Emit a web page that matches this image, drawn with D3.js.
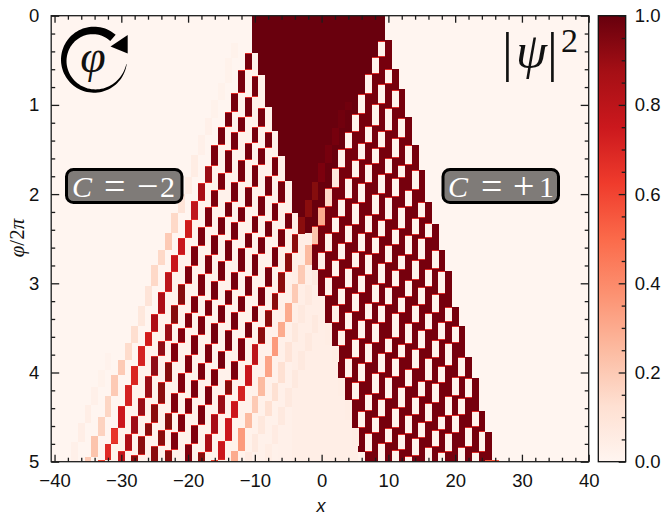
<!DOCTYPE html>
<html>
<head>
<meta charset="utf-8">
<script src="https://cdn.jsdelivr.net/npm/d3@7"></script>
<style>
body { margin: 0; background: #fff; }
text { font-family: "Liberation Sans", Arial, sans-serif; fill: #111; }
.math, .math text { font-family: "Liberation Serif", serif; }
</style>
</head>
<body>
<div id="container"></div>
<script>
// colormap stops (Reds)
const redStops = ["#fff5f0", "#fee0d2", "#fcbba1", "#fc9272", "#fb6a4a", "#ef3b2c", "#cb181d", "#a50f15", "#67000d"]

const xTicks = [-40, -30, -20, -10, 0, 10, 20, 30, 40]
const phiTicks = [0, 1, 2, 3, 4, 5]
const cbarTicks = [0, 0.2, 0.4, 0.6, 0.8, 1]

// all phi values below are in hundredths of phi/2pi

// filled block in the middle, one column per site from -10 to 26
const darkFirstSite = -10
const darkTop = [0,0,0,0,0,0,0,0,0,0,0,0,0,0,0,0,0,0,0,0, 27,60,82,114,145,173,209,234,263,286,327,348,383,406,443,467,498]
const darkBottom = [42,67,102,129,157,185,221,244,244,285,314,344,372,406,431,462,489,500,500,500,500,500,500,500,500,500,500,500,500,500,500,500,500,500,500,500,500]
const coreBottom = [42,67,102,129,157,185,221,244,244,236,214,193,171,149,130,110,88,65,46,28,0,0,0,0,0,0,0,0,0,0,0,0,0,0,0,0,0]

// light wash under the left wave and the middle, sites -33 to 6
const hazeFirstSite = -33
const hazeStart = [498,480,462,438,414,393,370,355,334,310,287,268,249,229,208,188,168,145,125,108,87,61,42,42,67,102,129,157,185,221,244,244,285,314,344,372,406,431,462,489]
const hazeValue = [.02,.02,.02,.02,.02,.02,.02,.02,.02,.02,.02,.02,.02,.02,.02,.02,.02,.02,.02,.02,.02,.02,.02,.025,.025,.025,.025,.03,.03,.04,.04,.04,.04,.04,.04,.04,.04,.04,.04,.04]

// bricks run down to the left, one site per step: chain i starts at chainSite[i],
// brick j spans chainPhi[i][j] to chainPhi[i][j+1], value chainValue[i][j] (last one repeats)
const chainSite = [-32, -13, -11, -10, -9, -8, -7, -6, -5, 4,
    9, 10, 11, 12, 13, 14, 15, 16, 17, 18, 19, 20, 21, 22, 23, 24, 25]

const chainPhi = [
    [378,397,416,436,457,478,500],
    [31,47,75,95,115,134,156,181,200,221,244,263,279,303,326,348,367,386,403,426,450,471,495,500],
    [42,61,87,108,125,145,168,188,208,229,249,268,287,310,334,355,370,393,414,438,462,480,498,500],
    [68,91,114,130,151,176,195,214,237,258,281,301,324,346,365,382,404,429,449,469,488,500],
    [103,125,143,162,186,209,226,246,268,290,314,333,350,367,388,411,435,457,471,492,500],
    [130,148,167,192,214,231,251,275,297,319,337,358,380,401,423,445,464,482,500],
    [158,180,202,225,244,260,287,307,324,344,368,389,408,429,447,467,487,500],
    [185,210,230,248,267,292,314,332,352,376,396,415,436,459,480,500],
    [221,239,259,282,304,325,343,361,387,408,425,447,469,489,500],
    [97,106,126,145,165,186,207,226,245,266,287,311,330,349,368,392,415,432,451,477,498,500],
    [28,46,65,88,110,130,149,171,193,214,236,257,279,301,322,343,360,382,405,426,445,462,488,500],
    [60,77,99,124,143,162,182,205,226,244,265,285,302,324,344,366,388,412,432,449,469,489,500],
    [83,103,129,148,166,188,210,235,255,274,293,314,336,356,376,397,417,439,459,480,500],
    [115,137,160,177,200,223,244,265,283,305,324,344,369],
    [145,167,182,203,229,248,267,291,311,332,352,370,388],
    [173,195,214,239,257,277,301,322,341,362,384,406,426],
    [209,227,246,268,285,304,324,344,367,389,411,431,453],
    [232,249,274,296,315,333,361,378,401,424,443,462,482],
    [263,284,304,324,344,368,384,405,430,450,468,489,500],
    [286,312,333,352,374,396,416,440,462,479,500],
    [327,343,364,384,410,427,448,469,487,500],
    [348,367,393,412,434,455,473,494,500],
    [383,405,426,449,464,484,500],
    [406,429,448,468,489,500],
    [443,461,484,500],
    [466,489,500],
    [498,500]
]

const chainValue = [
    [.015,.02,.03,.04,.04,.03],
    [.02,.02,.02,.02,.03,.03,.05,.05,.1,.15,.2,.15,.15,.1,.08,.13,.14,.2,.2,.16,.17,.22,.2],
    [.97,.97,.97,.97,.97,.96,.9,.87,.79,.74,.76,.76,.8,.85,.85,.73,.72,.7,.72,.75,.65,.68,.6],
    [.97,.97,.97,.97,.97,.96,.96,.96,.96,.96,.96,.94,.94,.9,.92,.92,.9,.9,.89,.85,.78],
    [.97,.97,.97,.97,.97,.97,.97,.97,.96,.96,.96,.95,.95,.95,.94,.93,.93,.93,.93,.93],
    [.97,.97,.97,.97,.97,.97,.97,.97,.97,.96,.96,.96,.95,.95,.95,.94,.93,.93],
    [.97,.97,.97,.97,.97,.97,.97,.97,.97,.97,.96,.96,.96,.95,.95,.95,.93],
    [.97,.97,.97,.97,.97,.97,.97,.97,.97,.97,.96,.96,.96,.95,.95,.93],
    [.97,.97,.97,.97,.97,.97,.97,.96,.96,.93,.9,.87,.86,.93],
    [.98,.98,.97,.97,.96,.94,.93,.93,.93,.93,.93,.93,.93,.93,.8,.76,.72,.75,.75,.75,.6],
    [.02,.02,.02,.02,.02,.02,.03,.08,.15,.3,.22,.25,.2,.2,.3,.3,.35,.32,.25,.2,.25,.35,.3],
    [.02,.02,.02,.02,.02,.02,.02,.02,.02,.03,.04,.07,.07,.07,.08,.1,.12,.12,.12,.08,.07,.06],
    [.02,.02,.02,.02,.02,.02,.02,.02,.02,.02,.03,.04,.07,.07,.07,.07,.07,.07,.06,.05],
    [.02,.02,.02,.02,.02,.02,.02,.02,.02,.02,.03,.05],
    [.02,.02,.02,.02,.02,.02,.02,.02,.02,.02,.03,.05],
    [.02,.02,.02,.02,.02,.02,.02,.02,.02,.02,.03,.05],
    [.02,.02,.02,.02,.02,.02,.02,.02,.02,.02,.02,.05],
    [.02,.02,.02,.02,.02,.02,.02,.02,.02,.02,.02,.05],
    [.02],
    [.02],
    [.02],
    [.02],
    [.02],
    [.02],
    [.02],
    [.02],
    [.55]
]

const margin = { top: 15.7, left: 51.2 }
    , width = 537.5
    , height = 446
    , cbarX = 598.3
    , cbarW = 27.4

const svg = d3.select("div#container").append("svg")
    .attr("width", 665)
    .attr("height", 516)
    .style("display", "block")

const color = d3.scaleLinear()
    .domain(redStops.map((d, i) => i / 8))
    .range(redStops)

const xScale = d3.scaleLinear().domain([-40.5, 40]).range([margin.left, margin.left + width])
const yScale = d3.scaleLinear().domain([0, 5]).range([margin.top, margin.top + height])
const cScale = d3.scaleLinear().domain([0, 1]).range([margin.top + height, margin.top])

const defs = svg.append("defs")
defs.append("clipPath").attr("id", "plot").append("rect")
    .attr("x", margin.left).attr("y", margin.top).attr("width", width).attr("height", height)
const blur = defs.append("filter").attr("id", "soft")
    .attr("x", 0).attr("y", 0).attr("width", 1).attr("height", 1)
blur.append("feGaussianBlur").attr("stdDeviation", 0.3)

const grad = defs.append("linearGradient").attr("id", "cbar")
    .attr("x1", 0).attr("x2", 0).attr("y1", 1).attr("y2", 0)
redStops.forEach((c, i) => grad.append("stop").attr("offset", i / 8).attr("stop-color", c))

// cells: [site, from, to, value]
const cells = []
hazeStart.forEach((s, i) => cells.push([hazeFirstSite + i, s, 500, hazeValue[i]]))
darkTop.forEach((t, i) => {
    const site = darkFirstSite + i
    if (site === 26) { cells.push([site, t, darkBottom[i], 0.55]); return }
    cells.push([site, t, darkBottom[i], 0.97])
    if (coreBottom[i] > t) cells.push([site, t, coreBottom[i], 0.995])
})

function overDark(site, p) {
    const i = site - darkFirstSite
    return i >= 0 && i < darkTop.length && p >= darkTop[i] && p <= darkBottom[i]
}

chainSite.forEach((start, c) => {
    const phi = chainPhi[c], vals = chainValue[c]
    d3.range(phi.length - 1).forEach(j => {
        const site = start - j
            , v = j < vals.length ? vals[j] : vals[vals.length - 1]
            , a = phi[j], b = phi[j + 1]
        cells.push([site, a, b, v])
        // the sharp value steps go through the bright reds, as in the interpolated image
        const under = overDark(site, (a + b) / 2) ? 0.97 : 0.03
        if (Math.abs(v - under) > 0.4 && b - a > 4 && a > 0) {
            cells.push([site, a, a + 1.1, 0.68])
            if (b < 500) cells.push([site, b - 1.1, b, 0.68])
        }
    })
})

const plot = svg.append("g").attr("clip-path", "url(#plot)")
plot.append("rect")
    .attr("x", margin.left).attr("y", margin.top).attr("width", width).attr("height", height)
    .attr("fill", color(0))

plot.append("g").attr("filter", "url(#soft)")
    .selectAll("rect").data(cells).join("rect")
    .attr("x", d => xScale(d[0] - 0.5))
    .attr("width", d => xScale(d[0] + 0.5) - xScale(d[0] - 0.5) + 0.2)
    .attr("y", d => yScale(d[1] / 100))
    .attr("height", d => yScale(d[2] / 100) - yScale(d[1] / 100))
    .attr("fill", d => color(d[3]))
    .attr("shape-rendering", "crispEdges")

function styleAxis(g) {
    g.select(".domain").remove()
    g.selectAll("line").attr("stroke", "#1c1c1c").attr("stroke-width", 1.3)
    g.selectAll("text").style("font-size", "18.5px").attr("fill", "#111")
}

const xMajor = d3.axisBottom(xScale).tickValues(xTicks).tickSizeInner(-7).tickSizeOuter(0).tickPadding(12)
const xMinor = d3.range(-40, 41, 2).filter(d => d % 10 !== 0)
const yMinor = d3.range(0, 25).map(d => d / 5).filter(d => !Number.isInteger(d))

svg.append("g").attr("transform", "translate(0," + (margin.top + height) + ")").call(xMajor).call(styleAxis)
svg.append("g").attr("transform", "translate(0," + (margin.top + height) + ")")
    .call(d3.axisBottom(xScale).tickValues(xMinor).tickSizeInner(-4).tickSizeOuter(0).tickFormat("")).call(styleAxis)
svg.append("g").attr("transform", "translate(0," + margin.top + ")")
    .call(d3.axisTop(xScale).tickValues(xTicks).tickSizeInner(-7).tickSizeOuter(0).tickFormat("")).call(styleAxis)
svg.append("g").attr("transform", "translate(0," + margin.top + ")")
    .call(d3.axisTop(xScale).tickValues(xMinor).tickSizeInner(-4).tickSizeOuter(0).tickFormat("")).call(styleAxis)

svg.append("g").attr("transform", "translate(" + margin.left + ",0)")
    .call(d3.axisLeft(yScale).tickValues(phiTicks).tickFormat(d3.format("d")).tickSizeInner(-8).tickSizeOuter(0).tickPadding(12)).call(styleAxis)
svg.append("g").attr("transform", "translate(" + margin.left + ",0)")
    .call(d3.axisLeft(yScale).tickValues(yMinor).tickSizeInner(-4).tickSizeOuter(0).tickFormat("")).call(styleAxis)
svg.append("g").attr("transform", "translate(" + (margin.left + width) + ",0)")
    .call(d3.axisRight(yScale).tickValues(phiTicks).tickSizeInner(-8).tickSizeOuter(0).tickFormat("")).call(styleAxis)
svg.append("g").attr("transform", "translate(" + (margin.left + width) + ",0)")
    .call(d3.axisRight(yScale).tickValues(yMinor).tickSizeInner(-4).tickSizeOuter(0).tickFormat("")).call(styleAxis)

svg.append("rect")
    .attr("x", margin.left).attr("y", margin.top).attr("width", width).attr("height", height)
    .attr("fill", "none").attr("stroke", "#1c1c1c").attr("stroke-width", 1.3)

// axis labels
svg.append("text")
    .attr("x", 321).attr("y", 512).attr("text-anchor", "middle")
    .style("font-size", "18px").style("font-style", "italic")
    .text("x")

svg.append("text")
    .attr("class", "math")
    .attr("text-anchor", "middle")
    .attr("transform", "translate(24,238)rotate(-90)")
    .style("font-size", "21px")
    .html('<tspan font-style="italic">φ</tspan>/2<tspan font-style="italic">π</tspan>')

// colorbar
svg.append("rect")
    .attr("x", cbarX).attr("y", margin.top).attr("width", cbarW).attr("height", height)
    .attr("fill", "url(#cbar)").attr("stroke", "#111").attr("stroke-width", 1.3)

const cbarAt = "translate(" + (cbarX + cbarW) + ",0)"
svg.append("g").attr("transform", cbarAt)
    .call(d3.axisRight(cScale).tickValues(cbarTicks).tickFormat(d3.format(".1f")).tickSizeInner(-7).tickSizeOuter(0).tickPadding(9)).call(styleAxis)
svg.append("g").attr("transform", cbarAt)
    .call(d3.axisRight(cScale).tickValues(d3.range(0, 21).map(d => d / 20).filter(d => Math.round(d * 20) % 4 !== 0))
        .tickSizeInner(-4).tickSizeOuter(0).tickFormat("")).call(styleAxis)

// chern number badges
function badge(x, parts) {
    svg.append("rect")
        .attr("x", x).attr("y", 169.5).attr("width", 115.5).attr("height", 33).attr("rx", 7)
        .attr("fill", "#7f7b78").attr("stroke", "#000").attr("stroke-width", 3)
    parts.forEach(p => svg.append("text").attr("class", "math")
        .attr("x", p[0]).attr("y", p[3] || 197)
        .style("font-size", (p[4] || 30) + "px")
        .style("font-style", p[2] ? "italic" : "normal")
        .style("fill", "#fff")
        .text(p[1]))
}
badge(66.5, [[72, "C", true], [104, "=", false, 199, 38], [137, "−", false, 199, 38], [160, "2"]])
badge(443, [[448, "C", true], [481, "=", false, 199, 38], [513, "+", false, 199, 38], [539, "1"]])

// |psi|^2
const psi = svg.append("g").attr("class", "math")
psi.append("text").attr("x", 502).attr("y", 70).style("font-size", "54px").text("|")
psi.append("text").attr("x", 516).attr("y", 68).style("font-size", "50px").style("font-style", "italic").text("ψ")
psi.append("text").attr("x", 547).attr("y", 70).style("font-size", "54px").text("|")
psi.append("text").attr("x", 561).attr("y", 52).style("font-size", "34px").text("2")

// rotation arrow
const cx = 94, cy = 59.7
const ring = d3.range(0, 81).map(i => {
    const f = i / 80, a = 1.7 + f * 5.3, w = 0.3 + 8 * Math.pow(f, 0.75)
    return [a, w]
})
const outer = ring.map(d => [cx + 33 * Math.sin(d[0]), cy - 33 * Math.cos(d[0])])
const inner = ring.map(d => [cx + (33 - d[1]) * Math.sin(d[0]), cy - (33 - d[1]) * Math.cos(d[0])]).reverse()
svg.append("path")
    .attr("d", d3.line()(outer.concat(inner)) + "Z")
    .attr("fill", "#000")
svg.append("path")
    .attr("d", d3.line()([[127.7, 35], [127.7, 53.5], [110.5, 46.5]]) + "Z")
    .attr("fill", "#000")
svg.append("text").attr("class", "math")
    .attr("x", 93).attr("y", 72).attr("text-anchor", "middle")
    .style("font-size", "46px").style("font-style", "italic")
    .text("φ")
</script>
</body>
</html>
